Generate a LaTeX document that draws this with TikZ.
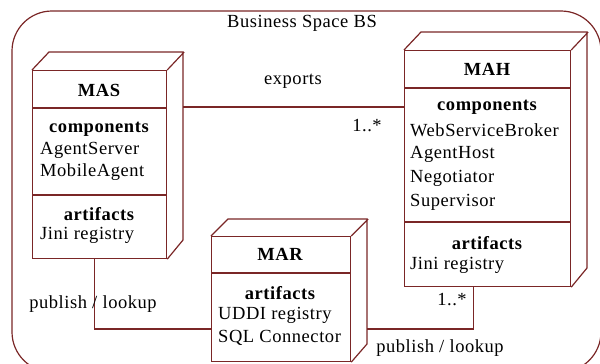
\documentclass[tikz,border=0pt]{standalone}
\usepackage{fontspec}
\setmainfont{Liberation Serif}
\newfontfamily\labelfont[LetterSpace=3]{Liberation Serif}
\definecolor{edge}{RGB}{122,38,38}
\begin{document}
\begin{tikzpicture}[x=1pt,y=-1pt,
  every node/.style={inner sep=0pt,font=\labelfont\fontsize{18.5}{20}\selectfont},
  line/.style={draw=edge,line width=1.2pt},
  front/.style={line,rectangle,anchor=north west},
  head/.style={font=\labelfont\fontsize{18.5}{20}\selectfont\bfseries},
  item/.style={anchor=west},
  lbl/.style={}]
\useasboundingbox (0,0) rectangle (600,364);

% business space frame
\draw[line] (12,11) [rounded corners=40pt] rectangle (601,372);
\node (bs) at (302,23) {Business Space BS};

% MAS node
\node[front,minimum width=134pt,minimum height=188pt] (mas) at (32,70) {};
\draw[line] (mas.north west) -- ++(17,-18) -- ++(134,0) -- ++(0,188) -- (mas.south east)
  (mas.north east) -- ++(17,-18);
\draw[line] (32,108) -- (166,108) (32,195) -- (166,195);
\node[head] (mast) at (99,90) {MAS};
\node[head] (masc) at (99,129) {components};
\node[item] (mas1) at (40,150) {AgentServer};
\node[item] (mas2) at (40,172) {MobileAgent};
\node[head] (masa) at (99,214) {artifacts};
\node[item] (mas3) at (40,235) {Jini registry};

% MAH node
\node[front,minimum width=166pt,minimum height=236pt] (mah) at (404,50) {};
\draw[line] (mah.north west) -- ++(17,-18) -- ++(166,0) -- ++(0,236) -- (mah.south east)
  (mah.north east) -- ++(17,-18);
\draw[line] (404,88) -- (570,88) (404,222) -- (570,222);
\node[head] (maht) at (487,69) {MAH};
\node[head] (mahc) at (487,107) {components};
\node[item] (mah1) at (410,130) {WebServiceBroker};
\node[item] (mah2) at (410,154) {AgentHost};
\node[item] (mah3) at (410,178) {Negotiator};
\node[item] (mah4) at (410,202) {Supervisor};
\node[head] (maha) at (487,243) {artifacts};
\node[item] (mah5) at (410,265) {Jini registry};

% MAR node
\node[front,minimum width=139pt,minimum height=125pt] (mar) at (211,236) {};
\draw[line] (mar.north west) -- ++(17,-17) -- ++(139,0) -- ++(0,125) -- (mar.south east)
  (mar.north east) -- ++(17,-17);
\draw[line] (211,273) -- (350,273);
\node[head] (mart) at (280,254) {MAR};
\node[head] (mara) at (280,293) {artifacts};
\node[item] (mar1) at (218,315) {UDDI registry};
\node[item] (mar2) at (218,338) {SQL Connector};

% connectors
\coordinate (masR) at (183,107);
\coordinate (marR) at (367,329);
\draw[line] (masR) -- (mah.west |- masR);
\draw[line] ([xshift=-5pt]mas.south) |- (mar.west |- marR);
\draw[line] (marR) -| ([xshift=-14pt]mah.south);

% connector labels
\node[lbl] (exp) at (293,81) {exports};
\node[lbl] (m1) at (367,126) {1..*};
\node[lbl] (pl1) at (93,304) {publish / lookup};
\node[lbl] (m2) at (452,300) {1..*};
\node[lbl] (pl2) at (440,348) {publish / lookup};
\end{tikzpicture}
\end{document}
